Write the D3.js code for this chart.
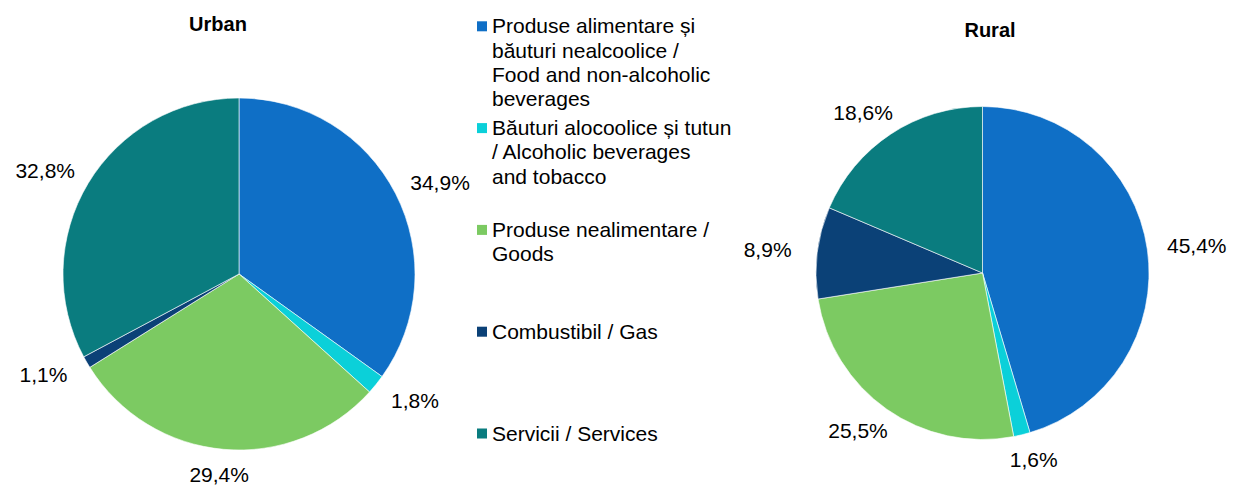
<!DOCTYPE html>
<html>
<head>
<meta charset="utf-8">
<script src="https://cdn.jsdelivr.net/npm/d3@7"></script>
<style>
  html, body { margin: 0; padding: 0; background: #fff; }
  svg { display: block; font-family: Arial, "Liberation Sans", sans-serif; }
</style>
</head>
<body>
<svg id="chart" width="1233" height="486"></svg>
<script>
// Expenditure structure by category, urban vs rural (%)
const categories = [
  ["Produse alimentare și", "băuturi nealcoolice /", "Food and non-alcoholic", "beverages"],
  ["Băuturi alocoolice și tutun", "/ Alcoholic beverages", "and tobacco"],
  ["Produse nealimentare /", "Goods"],
  ["Combustibil / Gas"],
  ["Servicii / Services"]
];
const urbanValues = [34.9, 1.8, 29.4, 1.1, 32.8];
const ruralValues = [45.4, 1.6, 25.5, 8.9, 18.6];
const colors = ["#0F6FC6", "#0BD0D9", "#7CCA62", "#0B4177", "#0A7C7F"];

const svg = d3.select("#chart");
const fmt = v => d3.format(".1f")(v).replace(".", ",") + "%";

const pie = d3.pie().sort(null).value(d => d);

function drawPie(values, title, cx, cy, r, titleX, titleY) {
  const g = svg.append("g").attr("transform", `translate(${cx},${cy})`);
  const arc = d3.arc().innerRadius(0).outerRadius(r);
  const arcs = pie(values);

  g.selectAll("path")
    .data(arcs)
    .join("path")
    .attr("d", arc)
    .attr("fill", (d, i) => colors[i])
    .attr("stroke", "#ffffff")
    .attr("stroke-width", 0.6);

  // Labels placed just outside the slice edge, pushed away along the bisector
  const gap = 18, w = 64, h = 15;
  g.selectAll("text.val")
    .data(arcs)
    .join("text")
    .attr("class", "val")
    .attr("text-anchor", "middle")
    .attr("dy", "0.36em")
    .attr("font-size", 21)
    .attr("fill", "#000")
    .attr("x", d => {
      const a = (d.startAngle + d.endAngle) / 2;
      return Math.sin(a) * (r + gap) + Math.sin(a) * w / 2;
    })
    .attr("y", d => {
      const a = (d.startAngle + d.endAngle) / 2;
      return -Math.cos(a) * (r + gap) - Math.cos(a) * h / 2;
    })
    .text(d => fmt(d.data));

  svg.append("text")
    .attr("x", titleX)
    .attr("y", titleY)
    .attr("text-anchor", "middle")
    .attr("font-size", 20)
    .attr("font-weight", "bold")
    .attr("fill", "#000")
    .text(title);
}

drawPie(urbanValues, "Urban", 239, 274, 176, 218, 31);
drawPie(ruralValues, "Rural", 982.5, 273, 166.5, 990, 37);

// Legend
const legend = svg.append("g").attr("transform", "translate(477,0)");
const itemStep = 101.8, firstBase = 33.3, lineH = 24.3;
const items = legend.selectAll("g.item")
  .data(categories)
  .join("g")
  .attr("class", "item")
  .attr("transform", (d, i) => `translate(0,${firstBase + i * itemStep})`);

items.append("rect")
  .attr("x", 0)
  .attr("y", -12)
  .attr("width", 10)
  .attr("height", 10)
  .attr("fill", (d, i) => colors[i]);

items.append("text")
  .attr("font-size", 21)
  .attr("fill", "#000")
  .selectAll("tspan")
  .data(d => d)
  .join("tspan")
  .attr("x", 15)
  .attr("y", (d, j) => j * lineH)
  .text(d => d);
</script>
</body>
</html>
